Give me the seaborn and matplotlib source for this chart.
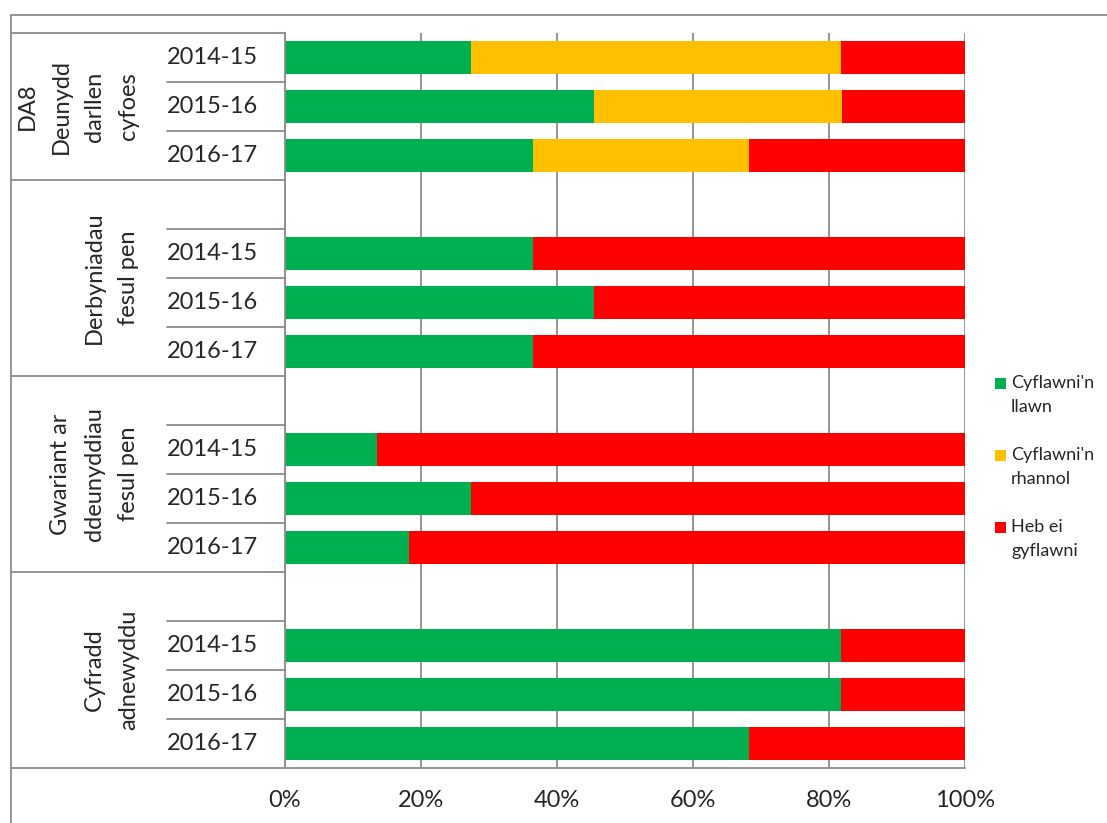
import matplotlib
matplotlib.use("Agg")
import matplotlib.pyplot as plt
import matplotlib.transforms as mtransforms
from matplotlib.lines import Line2D
from matplotlib.patches import Rectangle
import seaborn as sns
import pandas as pd

# ---- data ----
groups = ["DA8\nDeunydd\ndarllen\ncyfoes", "Derbyniadau\nfesul pen",
          "Gwariant ar\nddeunyddiau\nfesul pen", "Cyfradd\nadnewyddu"]
years = ["2014-15", "2015-16", "2016-17"]
full = [27.3, 45.5, 36.4, 36.4, 45.5, 36.4, 13.6, 27.3, 18.2, 81.8, 81.8, 68.2]
partial = [54.5, 36.4, 31.8, 0, 0, 0, 0, 0, 0, 0, 0, 0]
notmet = [18.2, 18.1, 31.8, 63.6, 54.5, 63.6, 86.4, 72.7, 81.8, 18.2, 18.2, 31.8]
series_names = ["Cyflawni'n\nllawn", "Cyflawni'n\nrhannol", "Heb ei\ngyflawni"]
colors = ["#00B050", "#FFC000", "#FF0000"]
xticks = [0, 20, 40, 60, 80, 100]
xticklabels = ["0%", "20%", "40%", "60%", "80%", "100%"]

# ---- build rows (blank spacer row at top of groups 2-4) ----
order = []
records = []
k = 0
for gi, g in enumerate(groups):
    if gi > 0:
        order.append(f"blank{gi}")
    for y in years:
        key = f"{gi}|{y}"
        order.append(key)
        records.append({"row": key, "green": full[k],
                        "yellow": full[k] + partial[k],
                        "red": full[k] + partial[k] + notmet[k]})
        k += 1
df = pd.DataFrame(records)

sns.set_style("white")
plt.rcParams["font.family"] = ["Lato", "DejaVu Sans"]

W, H = 1107, 823
fig = plt.figure(figsize=(W / 100, H / 100), dpi=100)
ax = fig.add_axes([285 / W, 1 - 768 / H, 680 / W, 735 / H])

gray = "#8C8C8C"
for col, c in zip(["red", "yellow", "green"], colors[::-1]):
    sns.barplot(data=df, y="row", x=col, order=order, orient="h", color=c,
                width=0.66, errorbar=None, linewidth=0, saturation=1, ax=ax)

ax.set_xlim(0, 100)
ax.set_ylim(len(order) - 0.5, -0.5)
ax.set_yticks([])
ax.set_ylabel("")
ax.set_xlabel("")
ax.set_xticks(xticks)
ax.set_xticklabels(xticklabels, fontsize=17)
ax.tick_params(axis="x", length=5, width=1.3, color=gray, pad=11, direction="out")
ax.xaxis.grid(True, color=gray, linewidth=1.3)
ax.set_axisbelow(True)
for s in ["top", "right"]:
    ax.spines[s].set_visible(False)
for s in ["left", "bottom"]:
    ax.spines[s].set_color(gray)
    ax.spines[s].set_linewidth(1.3)

bt = mtransforms.blended_transform_factory(ax.transAxes, ax.transData)
x_left = (11 - 285) / 680
x_mid = (167 - 285) / 680
x_year = (258 - 285) / 680
x_grp = (139 - 285) / 680

# separators and labels
pos = 0
for gi, g in enumerate(groups):
    start = pos
    ax.plot([x_left, 0], [start - 0.5, start - 0.5], transform=bt, clip_on=False,
            color=gray, lw=1.3)
    if gi > 0:
        pos += 1
    for yi, y in enumerate(years):
        ax.text(x_year, pos, y, transform=bt, ha="right", va="center", fontsize=17)
        if pos > start:
            ax.plot([x_mid, 0], [pos - 0.5, pos - 0.5], transform=bt, clip_on=False,
                    color=gray, lw=1.3)
        pos += 1
    center = (start - 0.5 + pos - 0.5) / 2
    ax.text(x_grp, center, g, transform=bt, ha="right", va="center", rotation=90,
            fontsize=17, linespacing=1.75, multialignment="center")
ax.plot([x_left, 0], [pos - 0.5, pos - 0.5], transform=bt, clip_on=False,
        color=gray, lw=1.3)

# figure frame
fig.add_artist(Line2D([11 / W, 11 / W], [0, 1 - 15 / H], transform=fig.transFigure,
                      color=gray, lw=1.3))
fig.add_artist(Line2D([11 / W, 1], [1 - 15 / H, 1 - 15 / H], transform=fig.transFigure,
                      color=gray, lw=1.3))

# legend
for i, (name, c) in enumerate(zip(series_names, colors)):
    yc = 383 + 72 * i
    fig.add_artist(Rectangle((995 / W, 1 - (yc + 5.5) / H), 11 / W, 11 / H,
                             transform=fig.transFigure, facecolor=c, edgecolor="none"))
    fig.text(1011 / W, 1 - (yc + 12) / H, name, ha="left", va="center",
             fontsize=13, linespacing=1.55)

fig.savefig("out.png", dpi=100)
